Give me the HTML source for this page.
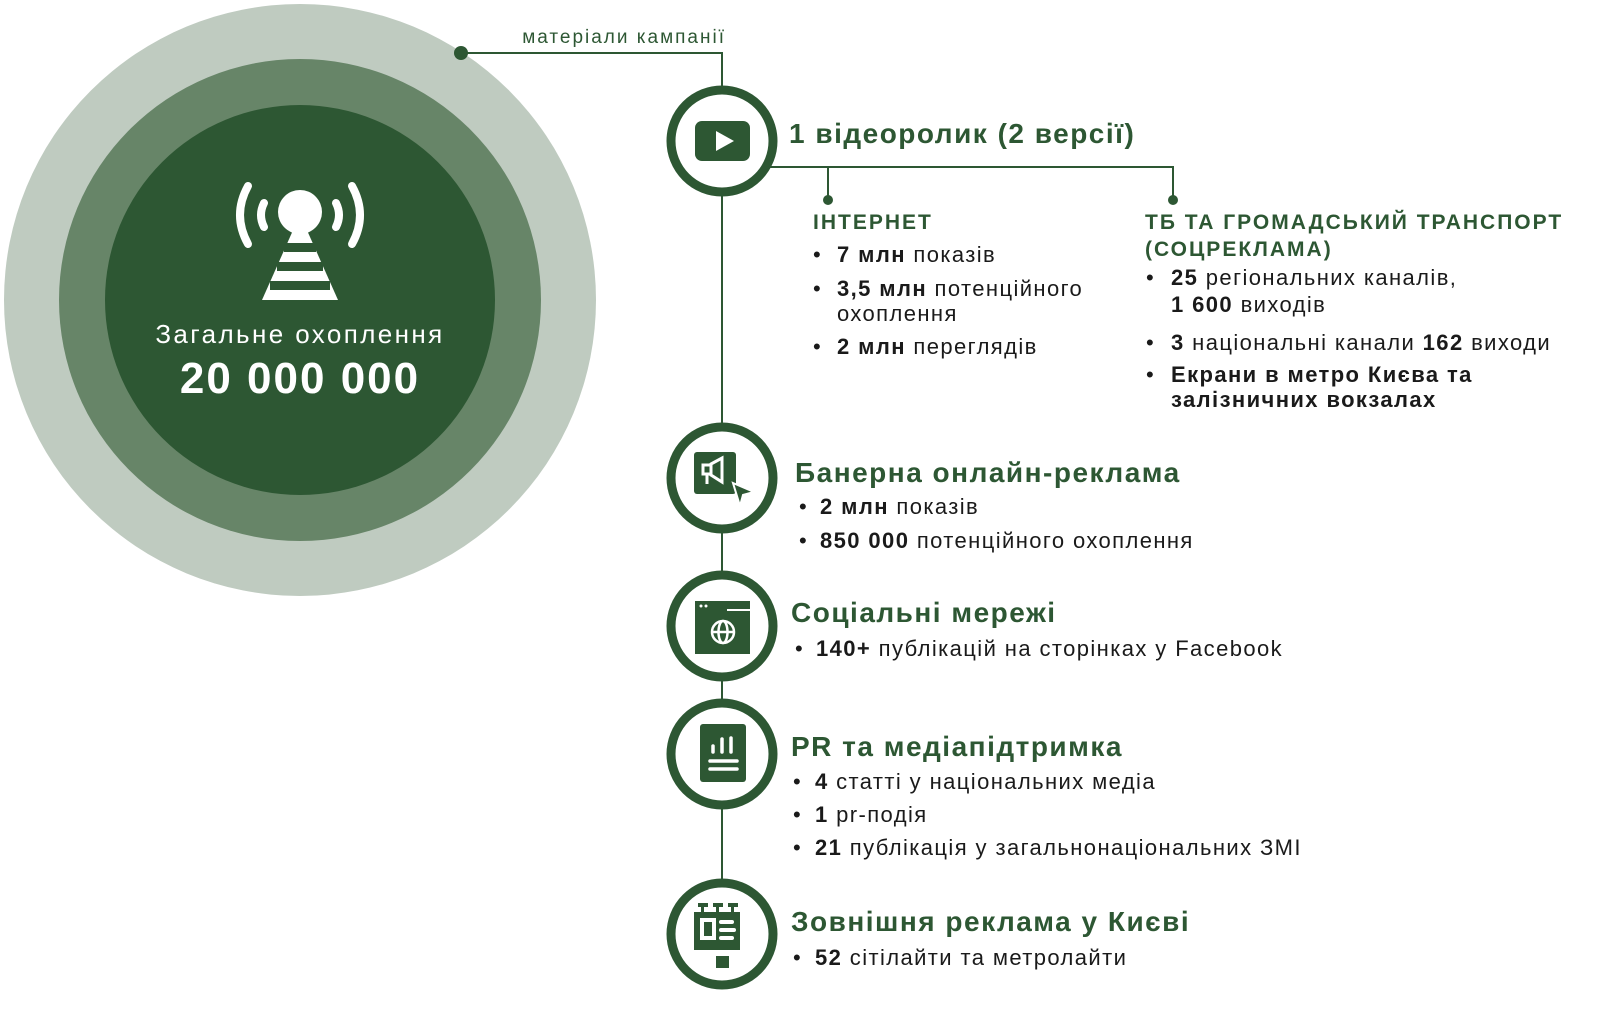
<!DOCTYPE html>
<html><head><meta charset="utf-8"><style>
html,body{margin:0;padding:0;background:#fff;}
svg{display:block;}
.t{font-family:"Liberation Sans",sans-serif;font-weight:bold;font-size:28px;letter-spacing:1.5px;fill:#2d5733;}
.h{font-family:"Liberation Sans",sans-serif;font-weight:bold;font-size:21px;letter-spacing:2px;fill:#2d5733;}
.b{font-family:"Liberation Sans",sans-serif;font-size:22px;letter-spacing:1.4px;fill:#1a1a1a;}
.b tspan.k{font-weight:bold;}
</style></head><body>
<svg width="1600" height="1019" viewBox="0 0 1600 1019" xmlns="http://www.w3.org/2000/svg">
<circle cx="300" cy="300" r="296" fill="#bfcbc0"/>
<circle cx="300" cy="300" r="241" fill="#678568"/>
<circle cx="300" cy="300" r="195" fill="#2d5733"/>
<g fill="#fff">
<circle cx="300" cy="212" r="22"/>
<path d="M294 228 L306 228 L338 300 L262 300 Z"/>
</g>
<g fill="#2d5733">
<rect x="284" y="243" width="32" height="9"/>
<rect x="277" y="262" width="46" height="9"/>
<rect x="270" y="281" width="60" height="9"/>
</g>
<g fill="none" stroke="#fff" stroke-width="8" stroke-linecap="round">
<path d="M264 203 Q258 215 264 227"/>
<path d="M336 203 Q342 215 336 227"/>
<path d="M248 186 Q232 215 248 244"/>
<path d="M352 186 Q368 215 352 244"/>
</g>
<text x="300" y="343" text-anchor="middle" font-family="Liberation Sans,sans-serif" font-size="26" letter-spacing="2.4" fill="#fff">Загальне охоплення</text>
<text x="300" y="393" text-anchor="middle" font-family="Liberation Sans,sans-serif" font-weight="bold" font-size="44" letter-spacing="2" fill="#fff">20 000 000</text>

<g stroke="#2d5733" stroke-width="2" fill="none">
<path d="M461 53 H722 V90"/>
<line x1="722" y1="190" x2="722" y2="430"/>
<line x1="722" y1="530" x2="722" y2="578"/>
<line x1="722" y1="678" x2="722" y2="706"/>
<line x1="722" y1="806" x2="722" y2="886"/>
<path d="M770 167 H1173 V199"/>
<line x1="828" y1="167" x2="828" y2="199"/>
</g>
<circle cx="461" cy="53" r="7" fill="#2d5733"/>
<circle cx="828" cy="200" r="5" fill="#2d5733"/>
<circle cx="1173" cy="200" r="5" fill="#2d5733"/>
<text x="726" y="43" text-anchor="end" font-family="Liberation Sans,sans-serif" font-size="19" letter-spacing="2" fill="#2d5733">матеріали кампанії</text>

<g fill="#fff" stroke="#2d5733" stroke-width="9">
<circle cx="722" cy="141" r="51"/>
<circle cx="722" cy="478" r="51"/>
<circle cx="722" cy="626" r="51"/>
<circle cx="722" cy="754" r="51"/>
<circle cx="722" cy="934" r="51"/>
</g>
<rect x="695" y="121" width="55" height="40" rx="7" fill="#2d5733"/>
<path d="M716 131 L716 151 L734 141 Z" fill="#fff"/>

<rect x="694" y="452" width="42" height="42" rx="3" fill="#2d5733"/>
<g fill="none" stroke="#fff" stroke-width="3"><rect x="703" y="465" width="8" height="9"/><path d="M711 464 L722 458 V482 L711 475 Z"/><line x1="707" y1="474" x2="707" y2="484"/></g>
<path d="M733 483 L754 492 L743 495 L740 506 Z" fill="#2d5733" stroke="#fff" stroke-width="2"/>

<path d="M695 601 H727 V611 H750 V654 H695 Z" fill="#2d5733"/>
<rect x="727" y="601" width="23" height="8" fill="#2d5733"/>
<circle cx="701" cy="606" r="1.5" fill="#fff"/><circle cx="706" cy="606" r="1.5" fill="#fff"/>
<g fill="none" stroke="#fff" stroke-width="2.5"><circle cx="723" cy="632" r="11"/><ellipse cx="723" cy="632" rx="4.5" ry="11"/><line x1="712" y1="632" x2="734" y2="632"/></g>

<rect x="700" y="724" width="46" height="58" rx="3" fill="#2d5733"/>
<g fill="none" stroke="#fff" stroke-width="3.5" stroke-linecap="round"><line x1="713" y1="746" x2="713" y2="752"/><line x1="722" y1="739" x2="722" y2="752"/><line x1="731" y1="738" x2="731" y2="752"/><line x1="710" y1="761" x2="737" y2="761"/><line x1="710" y1="769" x2="737" y2="769"/></g>

<g fill="#2d5733"><rect x="694" y="912" width="46" height="38"/><rect x="698" y="903" width="10" height="4"/><rect x="713" y="903" width="10" height="4"/><rect x="728" y="903" width="10" height="4"/><rect x="701" y="904" width="3" height="10"/><rect x="716" y="904" width="3" height="10"/><rect x="731" y="904" width="3" height="10"/><rect x="716" y="956" width="13" height="12"/></g>
<g fill="#fff"><rect x="700" y="918" width="16" height="22"/><rect x="719" y="920" width="15" height="4" rx="2"/><rect x="719" y="928" width="17" height="4" rx="2"/><rect x="719" y="936" width="15" height="4" rx="2"/><rect x="690" y="924" width="4" height="10"/><rect x="740" y="924" width="4" height="10"/></g>
<rect x="704" y="922" width="8" height="14" fill="#2d5733"/>

<text class="t" x="789" y="143">1 відеоролик (2 версії)</text>
<text class="h" x="813" y="229">ІНТЕРНЕТ</text>
<text class="b" x="813" y="262">•</text><text class="b" x="837" y="262"><tspan class="k">7 млн</tspan> показів</text>
<text class="b" x="813" y="296">•</text><text class="b" x="837" y="296"><tspan class="k">3,5 млн</tspan> потенційного</text>
<text class="b" x="837" y="321">охоплення</text>
<text class="b" x="813" y="354">•</text><text class="b" x="837" y="354"><tspan class="k">2 млн</tspan> переглядів</text>

<text class="h" x="1145" y="229">ТБ ТА ГРОМАДСЬКИЙ ТРАНСПОРТ</text>
<text class="h" x="1145" y="256">(СОЦРЕКЛАМА)</text>
<text class="b" x="1146" y="285">•</text><text class="b" x="1171" y="285"><tspan class="k">25</tspan> регіональних каналів,</text>
<text class="b" x="1171" y="312"><tspan class="k">1 600</tspan> виходів</text>
<text class="b" x="1146" y="350">•</text><text class="b" x="1171" y="350"><tspan class="k">3</tspan> національні канали <tspan class="k">162</tspan> виходи</text>
<text class="b" x="1146" y="382">•</text><text class="b" x="1171" y="382" font-weight="bold">Екрани в метро Києва та</text>
<text class="b" x="1171" y="407" font-weight="bold">залізничних вокзалах</text>

<text class="t" x="795" y="482">Банерна онлайн-реклама</text>
<text class="b" x="799" y="514">•</text><text class="b" x="820" y="514"><tspan class="k">2 млн</tspan> показів</text>
<text class="b" x="799" y="548">•</text><text class="b" x="820" y="548"><tspan class="k">850 000</tspan> потенційного охоплення</text>

<text class="t" x="791" y="622">Соціальні мережі</text>
<text class="b" x="795" y="656">•</text><text class="b" x="816" y="656"><tspan class="k">140+</tspan> публікацій на сторінках у Facebook</text>

<text class="t" x="791" y="756">PR та медіапідтримка</text>
<text class="b" x="793" y="789">•</text><text class="b" x="815" y="789"><tspan class="k">4</tspan> статті у національних медіа</text>
<text class="b" x="793" y="822">•</text><text class="b" x="815" y="822"><tspan class="k">1</tspan> pr-подія</text>
<text class="b" x="793" y="855">•</text><text class="b" x="815" y="855"><tspan class="k">21</tspan> публікація у загальнонаціональних ЗМІ</text>

<text class="t" x="791" y="931">Зовнішня реклама у Києві</text>
<text class="b" x="793" y="965">•</text><text class="b" x="815" y="965"><tspan class="k">52</tspan> сітілайти та метролайти</text>
</svg>
</body></html>
